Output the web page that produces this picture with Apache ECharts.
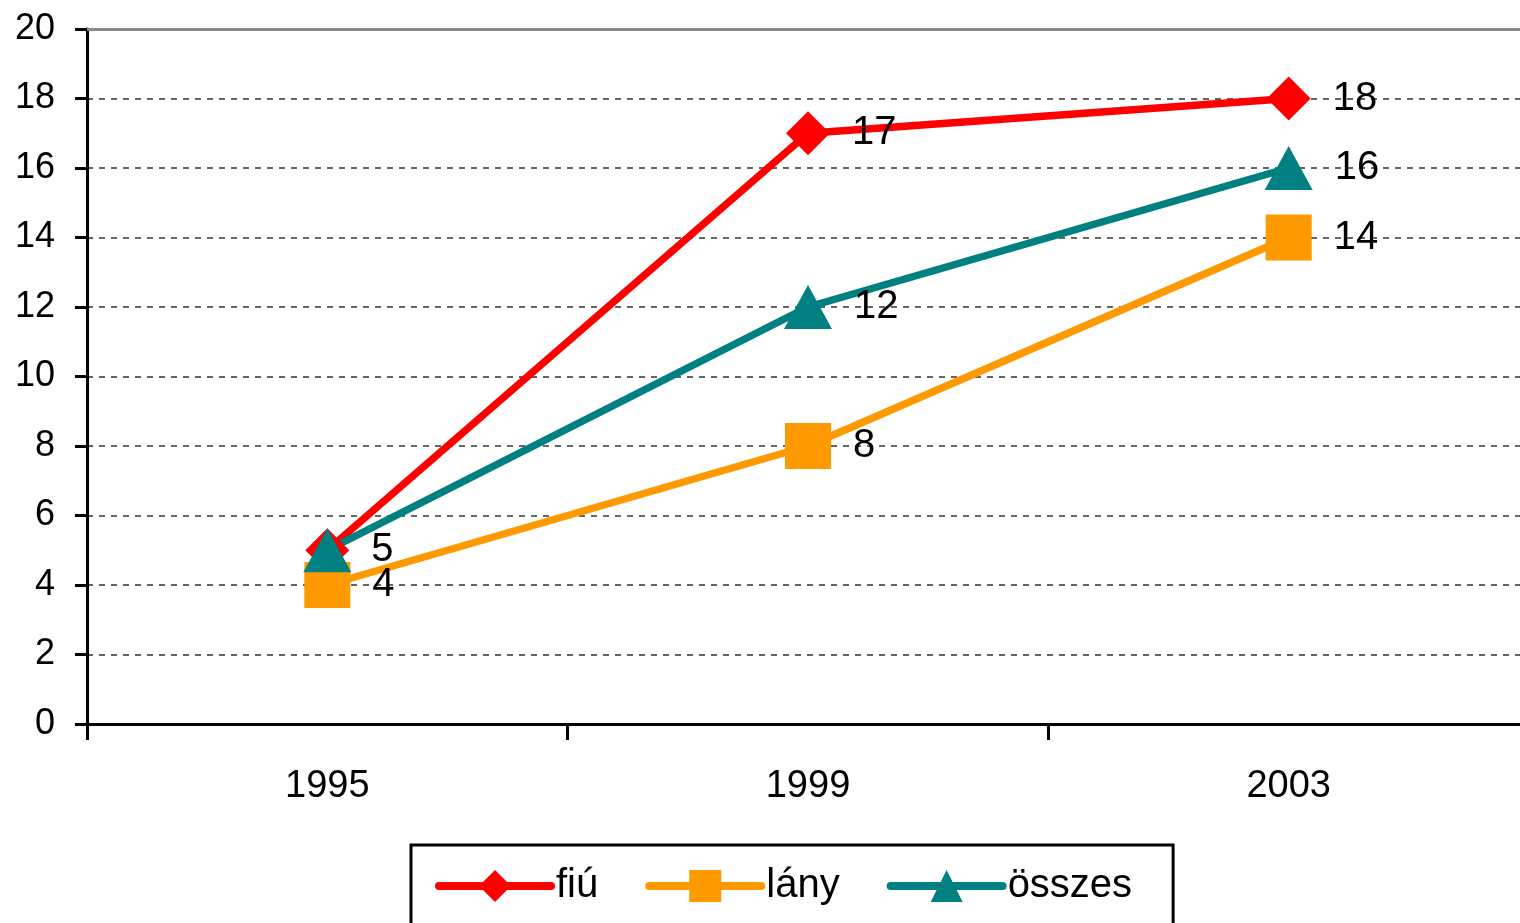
<!DOCTYPE html>
<html>
<head>
<meta charset="utf-8">
<script src="https://cdn.jsdelivr.net/npm/echarts@6/dist/echarts.min.js"></script>
<style>html,body{margin:0;padding:0;background:#fff;}#c{width:1520px;height:923px;}</style>
</head>
<body>
<div id="c"></div>
<script>
const categories = ['1995', '1999', '2003'];
const fiu = [5, 17, 18];
const lany = [4, 8, 14];
const osszes = [5, 12, 16];
const yTicks = { min: 0, max: 20, interval: 2 };

const chart = echarts.init(document.getElementById('c'));
const FONT = "'Liberation Sans', Arial, sans-serif";
function mk(name, data, color, symbol, size, formatter) {
  return {
    name, type: 'line', data, symbol, symbolSize: size,
    itemStyle: { color },
    lineStyle: { color, width: 7.5 },
    label: { show: true, position: 'right', distance: 22, fontSize: 40, color: '#000', fontFamily: FONT, formatter },
    emphasis: { disabled: true },
    animation: false
  };
}
chart.setOption({
  animation: false,
  grid: { left: 87, top: 29, bottom: 199, width: 1442, outerBoundsMode: 'none', containLabel: false },
  legend: {
    left: 411, top: 845,
    borderColor: '#000', borderWidth: 3, backgroundColor: '#fff',
    padding: [21, 41, 40, 24],
    itemWidth: 112, itemHeight: 40, itemGap: 47,
    lineStyle: { width: 8, cap: 'round' },
    textStyle: { fontSize: 40, fontFamily: FONT, color: '#000' },
    data: ['fiú', 'lány', 'összes']
  },
  xAxis: [{
    type: 'category', data: categories, boundaryGap: true,
    axisLine: { lineStyle: { color: '#000', width: 3 } },
    axisTick: { show: true, length: 16, lineStyle: { color: '#000', width: 3 } },
    axisLabel: { fontSize: 38, color: '#000', fontFamily: FONT, margin: 44 }
  }, {
    type: 'category', data: categories, position: 'top',
    axisLine: { show: true, lineStyle: { color: '#888', width: 3 } },
    axisTick: { show: false }, axisLabel: { show: false }
  }],
  yAxis: {
    type: 'value', min: yTicks.min, max: yTicks.max, interval: yTicks.interval,
    axisLine: { show: true, lineStyle: { color: '#000', width: 3 } },
    axisTick: { show: true, length: 12, lineStyle: { color: '#000', width: 3 } },
    axisLabel: { fontSize: 36, color: '#000', fontFamily: FONT, margin: 32 },
    splitLine: { show: true, lineStyle: { color: '#333', type: [6, 6], width: 1.5 } }
  },
  series: [
    mk('fiú', fiu, '#ff0000', 'diamond', 44),
    mk('lány', lany, '#ff9900', 'rect', 46),
    mk('összes', osszes, '#008080', 'triangle', [48, 44],
       p => (osszes[p.dataIndex] === fiu[p.dataIndex] ? '' : String(p.value)))
  ]
});
</script>
</body>
</html>
